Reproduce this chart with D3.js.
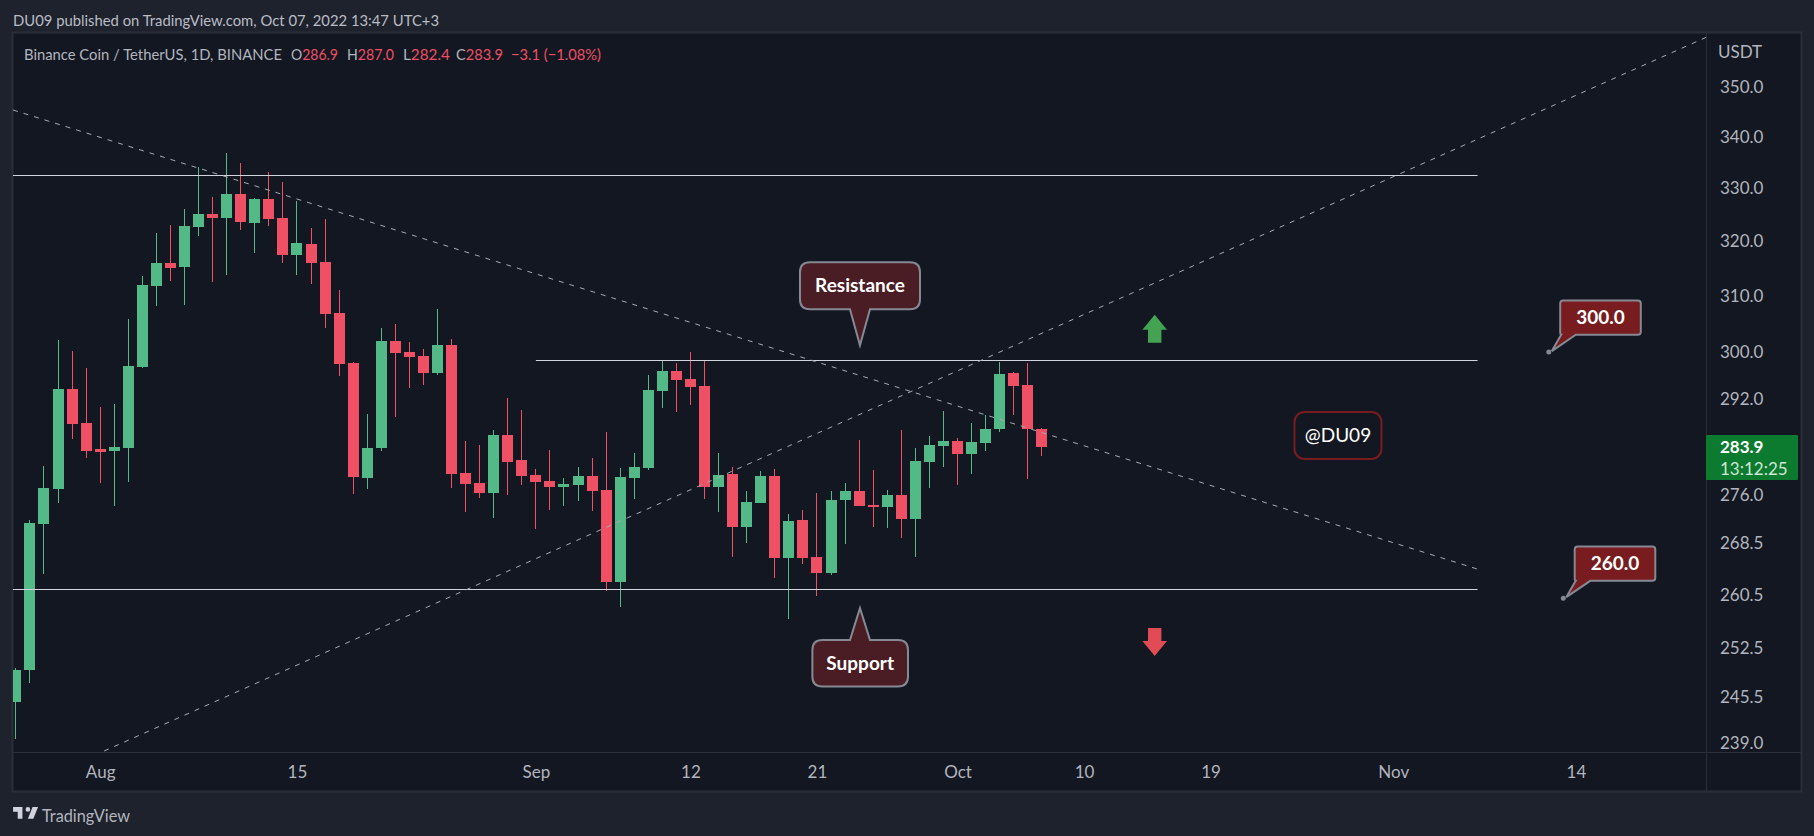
<!DOCTYPE html>
<html>
<head>
<meta charset="utf-8">
<style>
  html, body { margin: 0; padding: 0; background: #1e222d; }
  svg { display: block; }
  text { font-family: Lato, "Open Sans", sans-serif; }
</style>
<script src="https://cdn.jsdelivr.net/npm/d3@7"></script>
</head>
<body>
<div id="chart"></div>
<script>
// daily candles, day 0 = 26 Jul 2022, day 73 = 7 Oct 2022
const opens = [244.7,249.4,271.5,277.0,293.7,287.9,283.6,283.2,283.7,297.4,311.8,316.0,315.2,322.7,325.1,324.4,328.9,323.4,327.9,324.4,317.4,319.5,316.2,306.9,298.1,278.8,283.7,302.0,300.0,299.3,296.4,301.2,279.7,278.0,276.4,285.9,281.8,279.3,278.4,277.4,277.7,279.2,276.9,262.5,278.8,280.5,293.3,296.7,295.4,294.2,277.4,279.5,271.0,274.8,279.2,266.2,272.1,266.3,263.9,275.3,276.7,274.5,274.2,276.1,272.3,281.4,284.0,284.9,282.7,284.6,286.9,296.4,294.3,286.9];
const highs = [249.7,272.1,280.8,302.1,300.2,297.3,290.6,291.1,305.9,313.6,321.5,323.0,326.0,334.1,328.3,336.8,334.9,328.1,333.2,331.2,327.6,322.5,324.2,311.1,298.3,289.4,304.3,305.0,301.8,300.5,307.6,302.3,284.9,284.2,286.7,292.1,290.1,280.3,283.4,278.8,280.6,282.1,286.4,280.5,282.9,296.1,298.6,298.1,300.0,298.6,282.9,280.6,276.7,280.0,280.3,273.1,273.7,276.4,276.7,278.0,285.0,280.1,276.9,286.7,283.7,285.7,289.9,285.4,287.9,289.2,298.3,296.6,298.1,287.0];
const lows = [239.6,247.5,263.7,274.8,285.2,282.1,278.0,274.3,278.2,297.2,308.2,312.7,308.3,321.0,312.5,313.8,322.1,317.8,322.9,316.0,313.8,312.1,304.3,295.9,276.2,277.0,283.3,288.9,293.8,294.3,296.1,277.2,273.4,275.6,272.4,276.1,277.7,270.7,273.7,274.3,275.1,273.5,261.1,258.7,275.4,280.1,290.4,289.8,290.9,275.4,273.4,266.3,268.5,274.8,263.1,256.8,265.2,260.3,263.6,268.3,274.3,271.0,270.9,269.3,266.3,277.2,280.6,277.7,279.5,283.2,286.4,289.2,278.7,282.4];
const closes = [249.4,271.6,277.2,293.7,287.7,283.2,283.1,283.9,297.6,312.0,316.0,315.1,322.9,325.1,324.4,328.9,323.6,327.9,324.2,317.4,319.6,316.0,306.8,298.0,279.0,283.7,302.0,299.8,299.2,296.4,301.2,279.5,277.9,276.4,285.9,281.4,279.2,278.2,277.4,277.9,279.2,276.7,262.5,279.0,280.6,293.5,296.7,295.2,294.0,277.4,279.3,271.0,275.0,279.2,266.2,272.0,266.2,263.9,275.3,276.7,274.3,274.2,276.1,272.3,281.6,284.2,284.9,282.7,284.7,286.9,296.2,294.2,286.9,283.9];

const priceTicks = [350, 340, 330, 320, 310, 300, 292, 276, 268.5, 260.5, 252.5, 245.5, 239];
const dayTicks = [6, 20, 37, 48, 57, 67, 76, 85, 98, 111];
const dayLabels = ['Aug', '15', 'Sep', '12', '21', 'Oct', '10', '19', 'Nov', '14'];

// horizontal levels: price, first day, last day
const levels = [[332.5, -0.3, 104], [298.55, 37, 104], [261.35, -0.3, 104]];
// trend lines: day, price, day, price
const trends = [[-0.2, 345.35, 104, 264.43], [6.28, 237.89, 120.3, 360.3]];

const width = 1814, height = 836;
const pane = { left: 13, top: 33, right: 1706, axisTop: 752, bottom: 791, edge: 1801 };
const up = '#53b987', down = '#ef5063';

const x = d3.scaleLinear().domain([0, 73]).range([15.85, 1041.85]);
const y = d3.scaleLog().domain([350, 239]).range([87, 743]);

const svg = d3.select('#chart').append('svg').attr('width', width).attr('height', height);

svg.append('rect').attr('width', width).attr('height', height).attr('fill', '#1e222d');
svg.append('rect')
  .attr('x', pane.left - 0.5).attr('y', pane.top - 0.5)
  .attr('width', pane.edge - pane.left + 1).attr('height', pane.bottom - pane.top + 1)
  .attr('fill', '#131722').attr('stroke', '#2a2e39').attr('stroke-width', 2);

svg.append('clipPath').attr('id', 'plot').append('rect')
  .attr('x', pane.left).attr('y', pane.top)
  .attr('width', pane.right - pane.left).attr('height', pane.axisTop - pane.top);

const plot = svg.append('g').attr('clip-path', 'url(#plot)');

// candles
const candle = plot.selectAll('g.candle').data(opens).join('g')
  .attr('class', 'candle')
  .attr('fill', (d, i) => closes[i] >= d ? up : down)
  .attr('shape-rendering', 'crispEdges');
const cx = i => Math.floor(x(i));
candle.append('rect')
  .attr('x', (d, i) => cx(i)).attr('width', 1)
  .attr('y', (d, i) => Math.round(y(highs[i])))
  .attr('height', (d, i) => Math.round(y(lows[i])) - Math.round(y(highs[i])));
candle.append('rect')
  .attr('x', (d, i) => cx(i) - 5).attr('width', 11)
  .attr('y', (d, i) => Math.round(y(Math.max(d, closes[i]))))
  .attr('height', (d, i) => Math.max(2, Math.round(y(Math.min(d, closes[i]))) - Math.round(y(Math.max(d, closes[i])))));

// drawings on top of the candles
plot.selectAll('line.level').data(levels).join('line')
  .attr('class', 'level')
  .attr('x1', d => x(d[1])).attr('x2', d => x(d[2]))
  .attr('y1', d => Math.round(y(d[0])) + 0.5).attr('y2', d => Math.round(y(d[0])) + 0.5)
  .attr('stroke', '#d1d4dc').attr('stroke-width', 1);
plot.selectAll('line.trend').data(trends).join('line')
  .attr('class', 'trend')
  .attr('x1', d => x(d[0])).attr('y1', d => y(d[1]))
  .attr('x2', d => x(d[2])).attr('y2', d => y(d[3]))
  .attr('stroke', '#a8abb4').attr('stroke-width', 1).attr('stroke-dasharray', '5 6');

// axes
const axisColor = '#b2b5be';
svg.append('line').attr('x1', pane.right + 0.5).attr('x2', pane.right + 0.5)
  .attr('y1', pane.top).attr('y2', pane.bottom).attr('stroke', '#2a2e39');
svg.append('line').attr('x1', pane.left).attr('x2', pane.edge)
  .attr('y1', pane.axisTop + 0.5).attr('y2', pane.axisTop + 0.5).attr('stroke', '#2a2e39');

const priceAxis = svg.append('g').attr('transform', `translate(${pane.right},0)`)
  .call(d3.axisRight(y).tickValues(priceTicks).tickFormat(d3.format('.1f')).tickSize(0).tickPadding(14));
priceAxis.select('.domain').remove();
priceAxis.selectAll('text').attr('fill', axisColor).style('font-size', '17px').style('font-family', 'Lato');

const timeAxis = svg.append('g').attr('transform', `translate(0,${pane.axisTop})`)
  .call(d3.axisBottom(x).tickValues(dayTicks).tickFormat((d, i) => dayLabels[i]).tickSize(0).tickPadding(14));
timeAxis.select('.domain').remove();
timeAxis.selectAll('text').attr('fill', axisColor).style('font-size', '17px').style('font-family', 'Lato');

svg.append('text').attr('x', 1718).attr('y', 58).attr('fill', axisColor).attr('font-size', 17).text('USDT');

// last price tag
const tag = svg.append('g');
tag.append('rect').attr('x', pane.right).attr('y', 435).attr('width', 92).attr('height', 45).attr('rx', 1).attr('fill', '#0c7a2f');
tag.append('text').attr('x', 1720).attr('y', y(closes[73]) + 6).attr('fill', '#fff').attr('font-size', 17).attr('font-weight', 700).text('283.9');
tag.append('text').attr('x', 1720).attr('y', 475).attr('fill', '#cfe6d5').attr('font-size', 17).text('13:12:25');

// header, legend, footer; squeezed to the widths of the original, narrower font
const fitted = (parent, px, py, span, fill, size, str) => parent.append('text')
  .attr('x', px).attr('y', py).attr('fill', fill).attr('font-size', size)
  .attr('textLength', span).attr('lengthAdjust', 'spacingAndGlyphs').text(str);

fitted(svg, 13, 26, 426, '#b9bcc4', 15, 'DU09 published on TradingView.com, Oct 07, 2022 13:47 UTC+3');

const legendLabels = ['O', 'H', 'L', 'C'];
const legendValues = ['286.9', '287.0', '282.4', '283.9'];
const legendX = [291, 347, 403, 456];
const legend = svg.append('g');
fitted(legend, 24, 59.5, 258, axisColor, 15, 'Binance Coin / TetherUS, 1D, BINANCE');
legendLabels.forEach((l, i) => {
  const label = fitted(legend, legendX[i], 59.5, 47, axisColor, 15, l);
  label.append('tspan').attr('fill', down).text(legendValues[i]);
});
fitted(legend, 511, 59.5, 90, down, 15, '\u22123.1 (\u22121.08%)');

svg.append('path')
  .attr('d', 'M14 6H2v6h6v9h6V6zm14 15h-7l6-15h7l-6 15zm-7-9a3 3 0 100-6 3 3 0 000 6z')
  .attr('transform', 'translate(11.5,802.4) scale(0.78)')
  .attr('fill', '#d1d4dc');
fitted(svg, 42, 822, 88, '#b2b5be', 17, 'TradingView');

// callouts anchored on day/price
const balloons = [
  { text: 'Resistance', day: 60.06, price: 301.2, box: [-60, 60, -83, -36] },
  { text: 'Support', day: 60.06, price: 258.5, box: [-47.6, 48, 32, 78.4] }
];
balloons.forEach(b => {
  const tx = x(b.day), ty = y(b.price), [l, r, t, bt] = b.box, c = 10;
  const below = t > 0;
  const p = d3.path();
  p.moveTo(tx + l + c, ty + t);
  if (below) { p.lineTo(tx - 10, ty + t); p.lineTo(tx, ty); p.lineTo(tx + 10, ty + t); }
  p.lineTo(tx + r - c, ty + t);
  p.quadraticCurveTo(tx + r, ty + t, tx + r, ty + t + c);
  p.lineTo(tx + r, ty + bt - c);
  p.quadraticCurveTo(tx + r, ty + bt, tx + r - c, ty + bt);
  if (!below) { p.lineTo(tx + 10, ty + bt); p.lineTo(tx, ty); p.lineTo(tx - 10, ty + bt); }
  p.lineTo(tx + l + c, ty + bt);
  p.quadraticCurveTo(tx + l, ty + bt, tx + l, ty + bt - c);
  p.lineTo(tx + l, ty + t + c);
  p.quadraticCurveTo(tx + l, ty + t, tx + l + c, ty + t);
  p.closePath();
  svg.append('path').attr('d', p.toString()).attr('fill', '#4a1c24').attr('stroke', '#868993').attr('stroke-width', 2);
  svg.append('text').attr('x', tx + (l + r) / 2).attr('y', ty + (t + bt) / 2 + 6.5)
    .attr('text-anchor', 'middle').attr('fill', '#fff').attr('font-size', 19).attr('font-weight', 700).text(b.text);
});

const priceNotes = [
  { text: '300.0', day: 109.07, price: 300.0 },
  { text: '260.0', day: 110.1, price: 260.0 }
];
priceNotes.forEach(n => {
  const tx = x(n.day), ty = y(n.price);
  const l = 11.4, r = 92, t = -51.6, b = -17.3;
  const p = d3.path();
  p.moveTo(tx + l + 3, ty + t);
  p.lineTo(tx + r - 3, ty + t);
  p.quadraticCurveTo(tx + r, ty + t, tx + r, ty + t + 3);
  p.lineTo(tx + r, ty + b - 3);
  p.quadraticCurveTo(tx + r, ty + b, tx + r - 3, ty + b);
  p.lineTo(tx + 27, ty + b);
  p.lineTo(tx + 3, ty - 1);
  p.lineTo(tx + l + 1, ty + b);
  p.quadraticCurveTo(tx + l, ty + b, tx + l, ty + b - 3);
  p.lineTo(tx + l, ty + t + 3);
  p.quadraticCurveTo(tx + l, ty + t, tx + l + 3, ty + t);
  p.closePath();
  svg.append('path').attr('d', p.toString()).attr('fill', '#781c1f').attr('stroke', '#868993').attr('stroke-width', 2);
  svg.append('circle').attr('cx', tx).attr('cy', ty).attr('r', 2.5).attr('fill', '#868993');
  svg.append('text').attr('x', tx + (l + r) / 2).attr('y', ty + (t + b) / 2 + 6.5)
    .attr('text-anchor', 'middle').attr('fill', '#fff').attr('font-size', 19).attr('font-weight', 700).text(n.text);
});

// signature box
const signDay = 94.07, signPrice = 285.8;
svg.append('rect').attr('x', x(signDay) - 43.5).attr('y', y(signPrice) - 23.5).attr('width', 87).attr('height', 47).attr('rx', 10)
  .attr('fill', 'none').attr('stroke', '#781c1f').attr('stroke-width', 2);
svg.append('text').attr('x', x(signDay)).attr('y', y(signPrice) + 6.5).attr('text-anchor', 'middle')
  .attr('fill', '#fff').attr('font-size', 19).text('@DU09');

// up and down arrows
const arrows = [
  { day: 81.03, price: 306.6, dir: 1, color: '#43a353' },
  { day: 81.03, price: 251.4, dir: -1, color: '#e04b56' }
];
const arrowLine = d3.line();
arrows.forEach(a => {
  const tx = x(a.day), ty = y(a.price), s = a.dir;
  svg.append('path').attr('fill', a.color).attr('d', arrowLine([
    [tx, ty], [tx + 12.3, ty + 15 * s], [tx + 6.7, ty + 15 * s], [tx + 6.7, ty + 28 * s],
    [tx - 6.7, ty + 28 * s], [tx - 6.7, ty + 15 * s], [tx - 12.3, ty + 15 * s]
  ]) + 'Z');
});
</script>
</body>
</html>
